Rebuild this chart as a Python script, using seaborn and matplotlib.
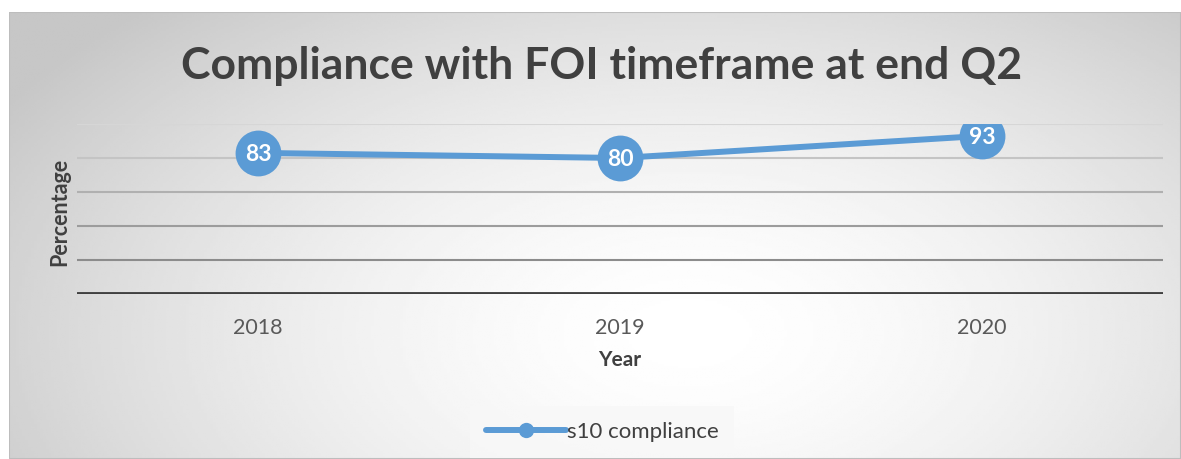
import numpy as np
import pandas as pd
import matplotlib.pyplot as plt
import seaborn as sns

# --- DATA ---
years = ["2018", "2019", "2020"]
compliance = [83, 80, 93]
series_name = "s10 compliance"
y_grid = [0, 20, 40, 60, 80, 100]

df = pd.DataFrame({"Year": years, "Percentage": compliance})

sns.set_style("white")
plt.rcParams['font.family'] = ['Lato', 'DejaVu Sans']

W, H = 1181, 459
fig = plt.figure(figsize=(W / 100, H / 100), dpi=100)

# --- BACKGROUND (radial gradient) ---
bg = fig.add_axes([9 / W, 0, (W - 9) / W, (H - 12) / H])
gx, gy = np.meshgrid(np.linspace(0, 1, 400), np.linspace(0, 1, 200))
r = np.sqrt(((gx - 0.58) / 0.68) ** 2 + ((gy - 0.72) / 1.0) ** 2)
shade = 1.0 - 0.22 * np.clip(r, 0, 1) ** 1.6
bg.imshow(shade, cmap="gray", vmin=0, vmax=1, aspect="auto", extent=[0, 1, 0, 1])
bg.set_axis_off()
bg.add_patch(plt.Rectangle((0, 0), 1, 1, fill=False, edgecolor="#bdbdbd", lw=1.5,
                           transform=bg.transAxes))

# --- MAIN PLOT ---
ax = fig.add_axes([77 / W, 1 - 294 / H, 1086 / W, 170 / H])
ax.set_facecolor("none")

grid_cols = ["#8c8c8c", "#9c9c9c", "#b0b0b0", "#c4c4c4", "#d6d6d6"]
for val, c in zip(y_grid[1:], grid_cols):
    ax.axhline(val, color=c, lw=1.5, zorder=0)
ax.axhline(0, color="#404040", lw=3.5, zorder=1)

sns.lineplot(data=df, x="Year", y="Percentage", ax=ax, color="#5b9bd5", lw=4.3,
             marker="o", markersize=33, markeredgewidth=0, label=series_name,
             legend=False, zorder=3, sort=False)

for i, v in enumerate(compliance):
    ax.text(i, v, str(v), ha="center", va="center_baseline", color="white",
            fontsize=16.5, fontweight="bold", zorder=4)

ax.set_xlim(-0.5, 2.5)
ax.set_ylim(0, 100)
ax.set_yticks([])
ax.tick_params(axis="x", length=0, labelsize=15.5, labelcolor="#595959", pad=17)
for s in ax.spines.values():
    s.set_visible(False)

ax.set_xlabel("Year", fontsize=15, fontweight="bold", color="#404040", labelpad=9)
ax.set_ylabel("Percentage", fontsize=15.5, fontweight="bold", color="#404040")
ax.yaxis.set_label_coords(-0.006, 0.48)

fig.text(602 / W, 1 - 66 / H, "Compliance with FOI timeframe at end Q2",
         ha="center", va="center", fontsize=32, fontweight="bold", color="#404040")

# --- LEGEND ---
handles, labels = ax.get_legend_handles_labels()
leg = fig.legend(handles, labels, loc="center", bbox_to_anchor=(602 / W, 1 - 432 / H),
                 frameon=True, fontsize=16, handlelength=3.6, handletextpad=0.05,
                 borderpad=0.7, borderaxespad=0)
leg.get_frame().set_facecolor("#f8f8f8")
leg.get_frame().set_edgecolor("none")
leg.get_frame().set_boxstyle("square", pad=0)
for t in leg.get_texts():
    t.set_color("#404040")
for h in leg.legend_handles:
    h.set_markersize(11)
    h.set_linewidth(4.3)

fig.savefig("out.png", dpi=100)
